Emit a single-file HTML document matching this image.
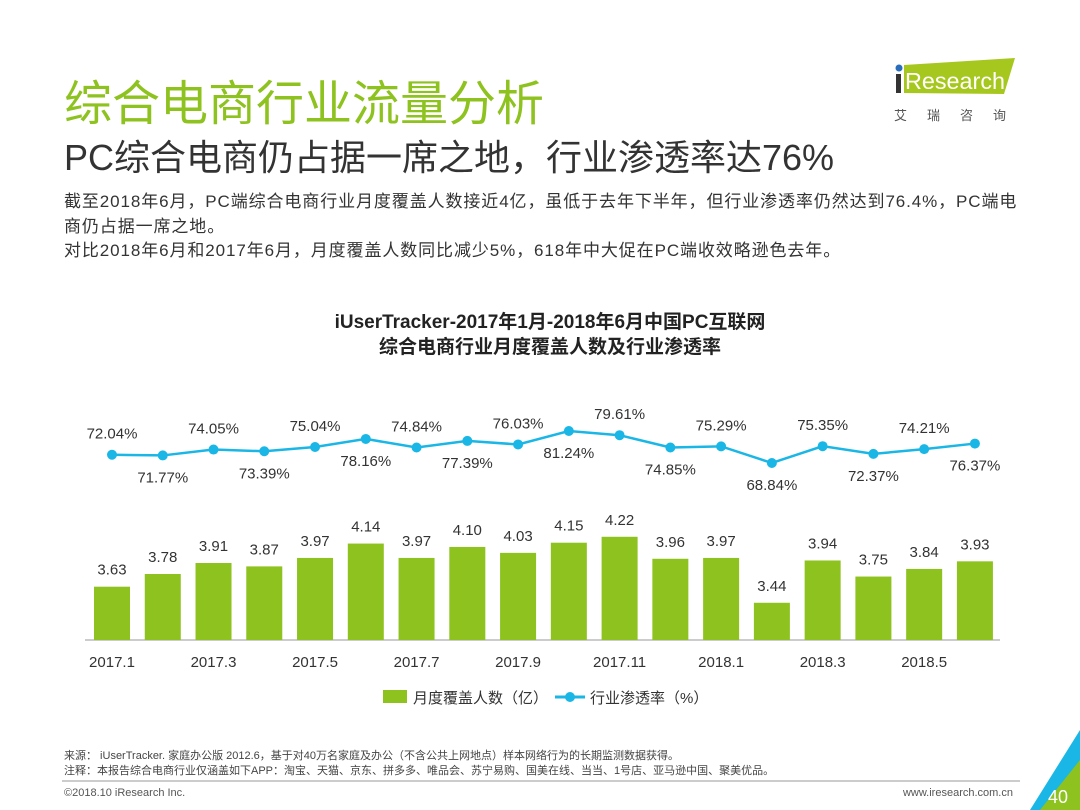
<!DOCTYPE html>
<html><head><meta charset="utf-8"><style>
body{margin:0;width:1080px;height:810px;background:#fff;position:relative;overflow:hidden;font-family:"Liberation Sans","Noto Sans CJK SC",sans-serif;}
.abs{position:absolute;white-space:nowrap}
</style></head><body>
<div class="abs" style="left:64px;top:64px;font-size:48px;color:#8dc21f">综合电商行业流量分析</div>
<div class="abs" style="left:64px;top:129px;font-size:36px;color:#333">PC综合电商仍占据一席之地，行业渗透率达76%</div>
<div class="abs" style="left:64px;top:190px;font-size:17px;letter-spacing:0.9px;line-height:24.5px;color:#333">截至2018年6月，PC端综合电商行业月度覆盖人数接近4亿，虽低于去年下半年，但行业渗透率仍然达到76.4%，PC端电<br>商仍占据一席之地。<br>对比2018年6月和2017年6月，月度覆盖人数同比减少5%，618年中大促在PC端收效略逊色去年。</div>
<div class="abs" style="left:890px;top:55px;width:140px;height:70px">
<svg width="140" height="70"><polygon points="14,10 125,3 114,39 14,38" fill="#a6c81e"/><circle cx="9" cy="13" r="3.5" fill="#2a6ebb"/><rect x="6" y="19" width="5" height="19" fill="#333"/><text x="15" y="34" font-size="23" fill="#fff" font-family="Liberation Sans" textLength="100" lengthAdjust="spacingAndGlyphs">Research</text><text x="4" y="65" font-size="13" fill="#555" letter-spacing="20" font-family="Noto Sans CJK SC">艾瑞咨询</text></svg></div>
<svg class="abs" style="left:0;top:0" width="1080" height="810" id="ch">
<text x="550" y="328" text-anchor="middle" font-size="19" font-weight="bold" fill="#222">iUserTracker-2017年1月-2018年6月中国PC互联网</text>
<text x="550" y="353" text-anchor="middle" font-size="19" font-weight="bold" fill="#222">综合电商行业月度覆盖人数及行业渗透率</text>
<line x1="85" y1="640" x2="1000" y2="640" stroke="#bbb" stroke-width="1.5"/>
<g id="marks"></g>
<rect x="383" y="690" width="24" height="13" fill="#8dc21f"/>
<text x="413" y="703" font-size="15" fill="#333">月度覆盖人数（亿）</text>
<line x1="555" y1="697" x2="585" y2="697" stroke="#1ab7e6" stroke-width="3"/>
<circle cx="570" cy="697" r="5" fill="#1ab7e6"/>
<text x="590" y="703" font-size="15" fill="#333">行业渗透率（%）</text>
<text x="64" y="759" font-size="11" fill="#444">来源： iUserTracker. 家庭办公版 2012.6，基于对40万名家庭及办公（不含公共上网地点）样本网络行为的长期监测数据获得。</text>
<text x="64" y="774" font-size="11" fill="#444">注释：本报告综合电商行业仅涵盖如下APP：淘宝、天猫、京东、拼多多、唯品会、苏宁易购、国美在线、当当、1号店、亚马逊中国、聚美优品。</text>
<line x1="62" y1="781" x2="1020" y2="781" stroke="#999" stroke-width="1"/>
<text x="64" y="796" font-size="11" fill="#555">©2018.10 iResearch Inc.</text>
<text x="1013" y="796" text-anchor="end" font-size="11" fill="#555">www.iresearch.com.cn</text>
<polygon points="1080,730 1080,810 1030,810" fill="#1ab7e6"/>
<polygon points="1080,760 1080,810 1040,810" fill="#8dc21f"/>
<text x="1058" y="803" text-anchor="middle" font-size="18" fill="#fff">40</text>
</svg>
<script>
const months=["2017.1","2017.2","2017.3","2017.4","2017.5","2017.6","2017.7","2017.8","2017.9","2017.10","2017.11","2017.12","2018.1","2018.2","2018.3","2018.4","2018.5","2018.6"];
const users=[3.63,3.78,3.91,3.87,3.97,4.14,3.97,4.10,4.03,4.15,4.22,3.96,3.97,3.44,3.94,3.75,3.84,3.93];
const rates=[72.04,71.77,74.05,73.39,75.04,78.16,74.84,77.39,76.03,81.24,79.61,74.85,75.29,68.84,75.35,72.37,74.21,76.37];
const g=document.getElementById('marks');const NS='http://www.w3.org/2000/svg';
const xs=i=>112+i*50.76;
const yb=v=>640-84.6*(v-3.0);
const yl=v=>431+(81.24-v)*2.58;
function mk(t,a){const e=document.createElementNS(NS,t);for(const k in a)e.setAttribute(k,a[k]);g.appendChild(e);return e;}
users.forEach((v,i)=>{
const r=mk('rect',{x:xs(i)-18,y:yb(v),width:36,height:640-yb(v),fill:'#8dc21f'});


const t=mk('text',{x:xs(i),y:yb(v)-12,'text-anchor':'middle','font-size':15,fill:'#333'});t.textContent=v.toFixed(2);


if(i%2==0){const l=mk('text',{x:xs(i),y:667,'text-anchor':'middle','font-size':15,fill:'#333'});l.textContent=months[i];

}
});
const p=mk('polyline',{points:rates.map((v,i)=>xs(i)+','+yl(v)).join(' '),fill:'none',stroke:'#1ab7e6','stroke-width':2.5});


rates.forEach((v,i)=>{
const c=mk('circle',{cx:xs(i),cy:yl(v),r:5,fill:'#1ab7e6'});


const up=i%2==0;
const t=mk('text',{x:xs(i),y:up?yl(v)-16:yl(v)+27,'text-anchor':'middle','font-size':15,fill:'#333'});t.textContent=v.toFixed(2)+'%';


});
</script>
</body></html>
